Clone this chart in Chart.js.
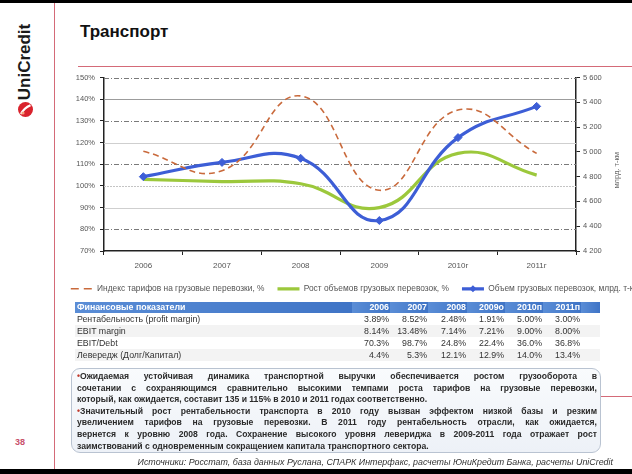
<!DOCTYPE html>
<html lang="ru">
<head>
<meta charset="utf-8">
<title>Транспорт</title>
<script src="https://cdn.jsdelivr.net/npm/chart.js@4.4.1/dist/chart.umd.min.js"></script>
<style>
  html, body { margin: 0; padding: 0; }
  body { width: 632px; height: 474px; position: relative; overflow: hidden; background: #fff;
         font-family: "Liberation Sans", Arial, sans-serif; color: #222; }
  .abs { position: absolute; }
  #topBand { left: 0; top: 0; width: 632px; height: 3px; background: #000; }
  #bottomBand { left: 0; top: 469px; width: 632px; height: 5px; background: #000; }
  #vline { left: 54px; top: 3px; width: 1px; height: 466px; background: #d46a78; }
  #hline { left: 78px; top: 66px; width: 554px; height: 1px; background: #d46a78; }
  #sideLine { left: 601px; top: 396px; width: 31px; height: 1px; background: #d46a78; }
  #title { left: 80px; top: 22px; font-size: 17px; font-weight: bold; color: #111; }
  #brand { left: 25px; top: 62px; transform: translate(-50%, -50%) rotate(-90deg);
           font-size: 17px; font-weight: bold; color: #1a1a1a; white-space: nowrap; }
  #logo { left: 18px; top: 102px; width: 15px; height: 15px; }
  #pageNum { left: 15px; top: 437px; font-size: 9px; font-weight: bold; color: #c8506a; }
  #chartBox { left: 50px; top: 68px; width: 610px; height: 235px; }

  #fin { left: 75px; top: 302px; width: 525px; border-collapse: collapse; table-layout: fixed;
         font-size: 8.8px; color: #333; }
  #fin th { height: 11px; line-height: 11px; padding: 0 1px; color: #fff; font-weight: bold;
            text-align: right; background: linear-gradient(to right, #5a8dd6, #3f74c6); }
  #fin th:first-child { text-align: left; padding-left: 2px; }
  #fin td { height: 12px; line-height: 12px; padding: 0 1px; text-align: right; white-space: nowrap; }
  #fin td:first-child { text-align: left; padding-left: 2px; }
  #fin tbody tr:nth-child(even) td { background: #f3f3f3; }

  #note { left: 71px; top: 368px; width: 530px; height: 85px; box-sizing: border-box;
          border: 1px solid #b9c3d1; border-radius: 9px;
          background: linear-gradient(to bottom, #f9fbfd, #edf1f7);
          padding: 2px 4px 0 5px; font-size: 8.6px; font-weight: bold; line-height: 11.6px; color: #2a2a2a; }
  #note div { white-space: nowrap; }
  #note .b { color: #c0392b; }
  #source { right: 19px; top: 457px; font-size: 8.9px; font-style: italic; color: #333; white-space: nowrap; }
</style>
</head>
<body>
<div id="topBand" class="abs"></div>
<div id="bottomBand" class="abs"></div>
<div id="vline" class="abs"></div>
<div id="hline" class="abs"></div>
<div id="sideLine" class="abs"></div>
<div id="brand" class="abs">UniCredit</div>
<svg id="logo" class="abs" viewBox="0 0 15 15">
  <circle cx="7.5" cy="7.5" r="7.5" fill="#d9232d"/>
  <path d="M3 12 C5 8, 8 5, 12.5 3.2" stroke="#fff" stroke-width="2.2" fill="none"/>
  <circle cx="5" cy="11" r="1.6" fill="#f5a07a"/>
</svg>
<div id="pageNum" class="abs">38</div>
<div id="title" class="abs">Транспорт</div>

<div id="chartBox" class="abs"><canvas id="chart"></canvas></div>

<table id="fin" class="abs">
  <colgroup>
    <col style="width:277px"><col style="width:38px"><col style="width:38px"><col style="width:39px">
    <col style="width:38px"><col style="width:38px"><col style="width:38px"><col style="width:19px">
  </colgroup>
  <thead><tr id="finHead"></tr></thead>
  <tbody id="finBody"></tbody>
</table>

<div id="note" class="abs"></div>
<div id="source" class="abs">Источники: Росстат, база данных Руслана, СПАРК Интерфакс, расчеты ЮниКредит Банка, расчеты UniCredit</div>

<script>
// chart data
const years = ['2006', '2007', '2008', '2009', '2010г', '2011г'];
const tariffIndex = [116, 107, 141.5, 98, 135, 115];       // %
const volumeGrowth = [103, 102, 101, 90, 115, 105];        // %
const freightVolume = [4800, 4915, 4948, 4446, 5115, 5367]; // млрд. т-км
const seriesNames = [
  'Индекс тарифов на грузовые перевозки, %',
  'Рост объемов грузовых перевозок, %',
  'Объем грузовых перевозок, млрд. т-км',
];
const rightAxisTitle = 'млрд. т-км';

// table data
const tableTitle = 'Финансовые показатели';
const tableYears = ['2006', '2007', '2008', '2009о', '2010п', '2011п'];
const rowNames = ['Рентабельность (profit margin)', 'EBIT margin', 'EBIT/Debt', 'Левередж (Долг/Капитал)'];
const profitMargin = ['3.89%', '8.52%', '2.48%', '1.91%', '5.00%', '3.00%'];
const ebitMargin = ['8.14%', '13.48%', '7.14%', '7.21%', '9.00%', '8.00%'];
const ebitDebt = ['70.3%', '98.7%', '24.8%', '22.4%', '36.0%', '36.8%'];
const leverage = ['4.4%', '5.3%', '12.1%', '12.9%', '14.0%', '13.4%'];

// comment box, one entry per printed line: [text, starts with bullet, justified]
const noteLines = [
  ['Ожидаемая устойчивая динамика транспортной выручки обеспечивается ростом грузооборота в', true, true],
  ['сочетании с сохраняющимся сравнительно высокими темпами роста тарифов на грузовые перевозки,', false, true],
  ['который, как ожидается, составит 135 и 115% в 2010 и 2011 годах соответственно.', false, false],
  ['Значительный рост рентабельности транспорта в 2010 году вызван эффектом низкой базы и резким', true, true],
  ['увеличением тарифов на грузовые перевозки. В 2011 году рентабельность отрасли, как ожидается,', false, true],
  ['вернется к уровню 2008 года. Сохранение высокого уровня левериджа в 2009-2011 года отражает рост', false, true],
  ['заимствований с одновременным сокращением капитала транспортного сектора.', false, false],
];

const FONT = '"Liberation Sans", Arial, sans-serif';

// --- table ---
const head = document.getElementById('finHead');
head.innerHTML = `<th>${tableTitle}</th>` + tableYears.map(y => `<th>${y}</th>`).join('') + '<th></th>';
const body = document.getElementById('finBody');
[profitMargin, ebitMargin, ebitDebt, leverage].forEach((vals, i) => {
  const tr = document.createElement('tr');
  tr.innerHTML = `<td>${rowNames[i]}</td>` + vals.map(v => `<td>${v}</td>`).join('') + '<td></td>';
  body.appendChild(tr);
});

// --- note box: justify each line to the box width with word-spacing ---
const note = document.getElementById('note');
const innerWidth = 520;
noteLines.forEach(([text, bullet, justify]) => {
  const div = document.createElement('div');
  const span = document.createElement('span');
  span.innerHTML = (bullet ? '<span class="b">•</span>' : '') + text;
  div.appendChild(span);
  note.appendChild(div);
  if (justify) {
    const w = span.getBoundingClientRect().width;
    const gaps = (text.match(/ /g) || []).length;
    if (gaps) span.style.wordSpacing = ((innerWidth - w) / gaps) + 'px';
  }
});

// --- chart ---
const thousands = (v) => String(v).replace(/\B(?=(\d{3})+(?!\d))/g, ' ');

// horizontal grid lines, mixed styles like the original slide
const gridLines = {
  id: 'gridLines',
  beforeDatasetsDraw(chart) {
    const { ctx, chartArea, scales: { y } } = chart;
    ctx.save();
    y.ticks.forEach((t) => {
      if (t.value <= 70) return;
      const py = Math.round(y.getPixelForValue(t.value)) + 0.5;
      let color = '#cfcfcf', dash = [];
      if ([150, 130, 110, 80].includes(t.value)) { color = '#7a7a7a'; dash = [5, 2, 1, 2]; }
      else if (t.value === 140) { color = '#9c9c9c'; }
      else if (t.value === 100) { color = '#c4c4c4'; dash = [2, 1]; }
      ctx.strokeStyle = color;
      ctx.lineWidth = 1;
      ctx.setLineDash(dash);
      ctx.beginPath();
      ctx.moveTo(chartArea.left, py);
      ctx.lineTo(chartArea.right, py);
      ctx.stroke();
    });
    ctx.restore();
  }
};

// rotated title of the right axis + marker on the third legend item
const extras = {
  id: 'extras',
  afterDraw(chart) {
    const { ctx, chartArea, scales: { y1 } } = chart;
    ctx.save();
    ctx.translate(y1.left + 41, chartArea.top + (chartArea.bottom - chartArea.top) * 0.535);
    ctx.rotate(-Math.PI / 2);
    ctx.font = `7.5px ${FONT}`;
    ctx.fillStyle = '#666';
    ctx.textAlign = 'center';
    ctx.textBaseline = 'middle';
    ctx.fillText(rightAxisTitle, 0, 0);
    ctx.restore();

    const hb = chart.legend.legendHitBoxes[2];
    if (hb) {
      const cx = hb.left + 11, cy = hb.top + 4.2, r = 3.5;
      ctx.save();
      ctx.fillStyle = '#3d5ed6';
      ctx.beginPath();
      ctx.moveTo(cx, cy - r); ctx.lineTo(cx + r, cy); ctx.lineTo(cx, cy + r); ctx.lineTo(cx - r, cy);
      ctx.closePath();
      ctx.fill();
      ctx.restore();
    }
  }
};

new Chart(document.getElementById('chart'), {
  type: 'line',
  data: {
    labels: years,
    datasets: [
      {
        label: seriesNames[0], data: tariffIndex, yAxisID: 'y', order: 0,
        borderColor: '#c96a3c', backgroundColor: '#c96a3c', borderWidth: 1.6, borderDash: [6, 4],
        pointRadius: 0, tension: 0.45,
      },
      {
        label: seriesNames[1], data: volumeGrowth, yAxisID: 'y', order: 2,
        borderColor: '#9cc83c', backgroundColor: '#9cc83c', borderWidth: 3.2,
        pointRadius: 0, tension: 0.45,
      },
      {
        label: seriesNames[2], data: freightVolume, yAxisID: 'y1', order: 1,
        borderColor: '#3d5ed6', backgroundColor: '#3d5ed6', borderWidth: 3.2,
        pointStyle: 'rectRot', pointRadius: 4, pointBorderWidth: 1, tension: 0.45,
      },
    ],
  },
  options: {
    responsive: true,
    maintainAspectRatio: false,
    animation: false,
    layout: { padding: { top: 9 } },
    plugins: {
      tooltip: { enabled: false },
      legend: {
        position: 'bottom',
        labels: {
          color: '#555',
          font: { size: 8.4, family: FONT },
          padding: 13,
          usePointStyle: true,
          pointStyleWidth: 22,
          generateLabels: (chart) => chart.data.datasets.map((ds, i) => ({
            text: ds.label,
            datasetIndex: i,
            fillStyle: ds.borderColor,
            strokeStyle: ds.borderColor,
            fontColor: '#555',
            lineWidth: ds.borderWidth,
            lineDash: ds.borderDash ? [8, 5] : [],
            pointStyle: 'line',
            hidden: false,
          })),
        },
      },
    },
    scales: {
      x: {
        offset: true,
        grid: { offset: true, drawOnChartArea: false, tickLength: 4, color: '#222' },
        border: { color: '#222', width: 1.5 },
        ticks: { color: '#555', font: { size: 8, family: FONT }, padding: 6, maxRotation: 0 },
        afterFit: (s) => { s.height = 20.6; },
      },
      y: {
        position: 'left',
        min: 70,
        max: 150,
        grid: { drawOnChartArea: false, tickLength: 4, color: '#222' },
        border: { color: '#222', width: 1.5 },
        ticks: { stepSize: 10, callback: (v) => v + '%', color: '#555', font: { size: 7.5, family: FONT }, padding: 5 },
        afterFit: (s) => { s.width = 54; },
      },
      y1: {
        position: 'right',
        min: 4200,
        max: 5600,
        grid: { drawOnChartArea: false, tickLength: 4, color: '#222' },
        border: { color: '#222', width: 1.5 },
        ticks: { stepSize: 200, callback: (v) => thousands(v), color: '#555', font: { size: 7.5, family: FONT }, padding: 3 },
        afterFit: (s) => { s.width = 84; },
      },
    },
  },
  plugins: [gridLines, extras],
});
</script>
</body>
</html>
